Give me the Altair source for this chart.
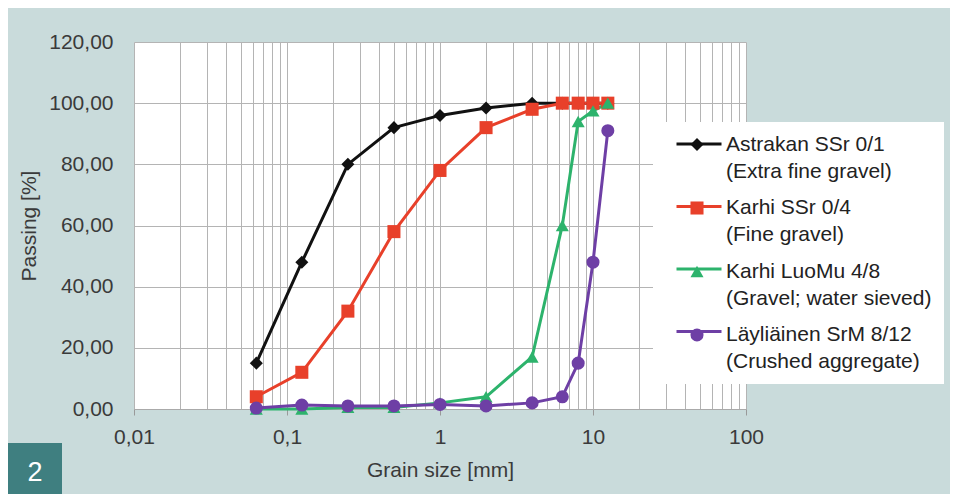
import altair as alt
import pandas as pd

# ---- data ----
sizes = [0.063, 0.125, 0.25, 0.5, 1, 2, 4, 6.3, 8, 10, 12.5]
astrakan = [15, 48, 80, 92, 96, 98.4, 100, 100, 100, 100, 100]
karhi_ssr = [4, 12, 32, 58, 78, 92, 98, 100, 100, 100, 100]
karhi_luomu = [0, 0, 0.5, 0.5, 2, 4, 17, 60, 94, 97.5, 100]
laylia = [0.3, 1.3, 1, 1, 1.5, 1, 2, 4, 15, 48, 91]

series_names = [
    "Astrakan SSr 0/1|(Extra fine gravel)",
    "Karhi SSr 0/4|(Fine gravel)",
    "Karhi LuoMu 4/8|(Gravel; water sieved)",
    "Läyliäinen SrM 8/12|(Crushed aggregate)",
]
series_values = [astrakan, karhi_ssr, karhi_luomu, laylia]
colors = ["#111111", "#e8402a", "#2db36c", "#6e3fa5"]
shapes = ["diamond", "square", "triangle-up", "circle"]

y_ticks = [0, 20, 40, 60, 80, 100, 120]
x_major = [0.01, 0.1, 1, 10, 100]
x_grid = [0.01, 0.02, 0.03, 0.04, 0.05, 0.06, 0.07, 0.08, 0.09,
          0.1, 0.2, 0.3, 0.4, 0.5, 0.6, 0.7, 0.8, 0.9,
          1, 2, 3, 4, 5, 6, 7, 8, 9,
          10, 20, 30, 40, 50, 60, 70, 80, 90, 100]

rows = []
for name, vals in zip(series_names, series_values):
    for s, v in zip(sizes, vals):
        rows.append({"series": name, "series2": name, "size": s, "value": v})
df = pd.DataFrame(rows)

FONT = "Liberation Sans"
FS = 21
BG = "#c9dbdb"
GRID = "#b4b4b4"
major_test = "indexof([0.01,0.1,1,10,100], datum.value) >= 0"

x_enc = alt.X(
    "size:Q",
    scale=alt.Scale(type="log", domain=[0.01, 100]),
    axis=alt.Axis(
        values=x_grid,
        labelExpr=f"{major_test} ? replace(toString(datum.value), '.', ',') : ''",
        tickOpacity={"condition": {"test": major_test, "value": 1}, "value": 0},
        tickSize=6, tickColor="#999999",
        labelPadding=11, labelFontSize=FS, labelColor="#3a3a3a", labelFont=FONT,
        labelOverlap=False, labelFlush=False,
        grid=True, gridColor=GRID, domainColor="#aaaaaa",
        title="Grain size [mm]", titleFontSize=FS, titleFont=FONT,
        titleFontWeight="normal", titleColor="#3a3a3a", titlePadding=12,
    ),
)
y_enc = alt.Y(
    "value:Q",
    scale=alt.Scale(domain=[0, 120], nice=False),
    axis=alt.Axis(
        values=y_ticks,
        labelExpr="replace(format(datum.value, '.2f'), '.', ',')",
        ticks=False, tickSize=0, labelPadding=21,
        labelFontSize=FS, labelColor="#3a3a3a", labelFont=FONT,
        grid=True, gridColor=GRID, domain=False,
        title="Passing [%]", titleFontSize=FS, titleFont=FONT,
        titleFontWeight="normal", titleColor="#3a3a3a", titlePadding=9,
    ),
)

# marker symbols + labels + white box
legend_mark = alt.Legend(
    orient="none", legendX=519, legendY=80, title=None,
    symbolSize=170, symbolStrokeWidth=0, symbolOffset=21.5,
    labelExpr="split(datum.label, '|')", labelFontSize=FS, labelFont=FONT,
    labelColor="#222222", labelLimit=400, labelOffset=18.5,
    fillColor="white", padding=12, rowPadding=14.5, zindex=1,
)
# line symbols only (drawn over the marker legend, same colours)
legend_line = alt.Legend(
    orient="none", legendX=529, legendY=66, title=None,
    symbolType="stroke", symbolSize=2025, symbolStrokeWidth=3,
    labelExpr="''", labelOffset=0,
    padding=12, rowPadding=32.5, zindex=2,
)

base = alt.Chart(df)
lines = base.mark_line(strokeWidth=3).encode(
    x=x_enc, y=y_enc,
    color=alt.Color("series:N", sort=series_names,
                    scale=alt.Scale(range=colors), legend=legend_line),
)
points = base.mark_point(filled=True, size=170, opacity=1).encode(
    x=x_enc, y=y_enc,
    fill=alt.Fill("series2:N", scale=alt.Scale(domain=series_names, range=colors),
                  legend=legend_mark),
    shape=alt.Shape("series2:N", scale=alt.Scale(domain=series_names, range=shapes),
                    legend=legend_mark),
)

badge_df = pd.DataFrame({"label": ["2"]})
badge = alt.Chart(badge_df).mark_rect(color="#3f7f80").encode(
    x=alt.value(-127), x2=alt.value(-72), y=alt.value(401), y2=alt.value(452)
)
badge_text = alt.Chart(badge_df).mark_text(
    color="white", fontSize=27, font=FONT, align="center", baseline="middle"
).encode(x=alt.value(-99), y=alt.value(431), text="label:N")

chart = (
    alt.layer(lines, points, badge, badge_text)
    .properties(
        width=612, height=367,
        autosize=alt.AutoSizeParams(type="none"),
        padding={"left": 126, "top": 34, "right": 204, "bottom": 85},
        background=BG,
    )
    .configure(style={"guide-label": {"lineHeight": 27}})
    .configure_view(fill="white", stroke="transparent")
)

chart.save("out.html", embed_options={"renderer": "svg", "actions": False})
